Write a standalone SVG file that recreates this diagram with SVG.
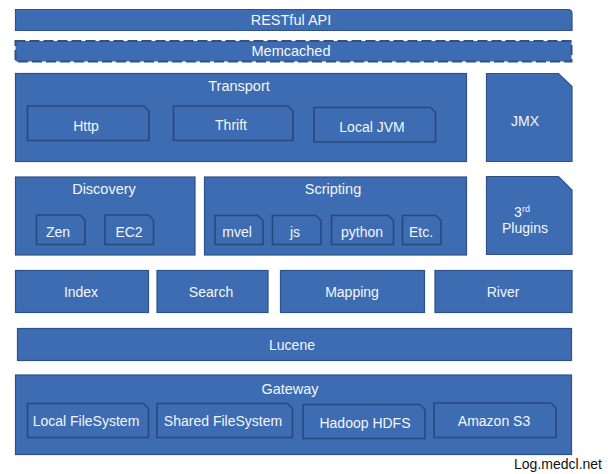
<svg xmlns="http://www.w3.org/2000/svg" width="608" height="474" viewBox="0 0 608 474">
<style>
.b{fill:#3d6cb2;stroke:#2d5188;stroke-width:1.2}
.s{fill:#3d6cb2;stroke:#264a7e;stroke-width:1.6}
.d{fill:#3d6cb2;stroke:#2d5188;stroke-width:2;stroke-dasharray:10 4}
text{font-family:"Liberation Sans",Arial,sans-serif;font-size:14px;fill:#f4f6fb;text-anchor:middle}
.t{font-size:14.5px}
.w{fill:#111;font-size:14px;text-anchor:end}
</style>
<rect width="608" height="474" fill="#fff"/>
<g id="restful"><path class="b" d="M15.5,9.5H568Q572,9.5 572,13.5V30.5H15.5Z"/><text class="t" x="291" y="25">RESTful API</text></g>
<g id="memcached"><rect class="d" x="15.5" y="41" width="556" height="20.5"/><text class="t" x="291" y="56">Memcached</text></g>
<g id="transport"><rect class="b" x="15.5" y="73.5" width="451" height="88"/><text class="t" x="239" y="91">Transport</text>
<g id="http"><path class="s" d="M27.5,106H144L149,111V140.5H27.5Z"/><text x="86" y="131">Http</text></g>
<g id="thrift"><path class="s" d="M173.5,106H288L293,111V140.5H173.5Z"/><text x="231" y="130">Thrift</text></g>
<g id="localjvm"><path class="s" d="M314,107.5H430.5L435.5,112.5V142H314Z"/><text x="372" y="132">Local JVM</text></g>
</g>
<g id="jmx"><path class="b" d="M486.5,73.5H558.5L572,86.5V161.5H486.5Z"/><text x="525" y="126">JMX</text></g>
<g id="discovery"><rect class="b" x="15.5" y="177" width="179.5" height="78"/><text class="t" x="104" y="194">Discovery</text>
<g id="zen"><path class="s" d="M36.5,215H80L85,220V244.5H36.5Z"/><text x="58" y="237">Zen</text></g>
<g id="ec2"><path class="s" d="M105,215H148.5L153.5,220V244.5H105Z"/><text x="129" y="237">EC2</text></g>
</g>
<g id="scripting"><rect class="b" x="204.5" y="177" width="262" height="78"/><text class="t" x="333" y="194">Scripting</text>
<g id="mvel"><path class="s" d="M215,215.5H258L263,220.5V244.5H215Z"/><text x="237" y="237">mvel</text></g>
<g id="js"><path class="s" d="M272.5,215.5H316L321,220.5V244.5H272.5Z"/><text x="295" y="237">js</text></g>
<g id="python"><path class="s" d="M331.5,215.5H388.5L393.5,220.5V244.5H331.5Z"/><text x="362" y="237">python</text></g>
<g id="etc"><path class="s" d="M402.5,215.5H436L441,220.5V244.5H402.5Z"/><text x="421" y="237">Etc.</text></g>
</g>
<g id="plugins"><path class="b" d="M486.5,176.5H558.5L572,190V254.5H486.5Z"/><text x="522" y="217"><tspan>3</tspan><tspan font-size="9" dy="-5">rd</tspan></text><text x="525" y="233">Plugins</text></g>
<g id="index"><rect class="b" x="15.5" y="270.5" width="133" height="42"/><text x="81" y="297">Index</text></g>
<g id="search"><rect class="b" x="157" y="270.5" width="111" height="42"/><text x="211" y="297">Search</text></g>
<g id="mapping"><rect class="b" x="280.5" y="270.5" width="144" height="42"/><text x="352" y="297">Mapping</text></g>
<g id="river"><rect class="b" x="435" y="270.5" width="137" height="42"/><text x="503" y="297">River</text></g>
<g id="lucene"><rect class="b" x="17.5" y="328.5" width="554" height="32"/><text x="292" y="350">Lucene</text></g>
<g id="gateway"><rect class="b" x="15.5" y="375" width="556" height="79.5"/><text class="t" x="290" y="394">Gateway</text>
<g id="localfs"><path class="s" d="M27.5,403.5H143.5L148.5,408.5V437.5H27.5Z"/><text x="86" y="426">Local FileSystem</text></g>
<g id="sharedfs"><path class="s" d="M157,403.5H287.5L292.5,408.5V437.5H157Z"/><text x="223" y="426">Shared FileSystem</text></g>
<g id="hdfs"><path class="s" d="M303,404.5H420L425,409.5V438.5H303Z"/><text x="365" y="428">Hadoop HDFS</text></g>
<g id="s3"><path class="s" d="M434,403H551L556,408V437.5H434Z"/><text x="494" y="426">Amazon S3</text></g>
</g>
<text class="w" x="602" y="469">Log.medcl.net</text>
</svg>
